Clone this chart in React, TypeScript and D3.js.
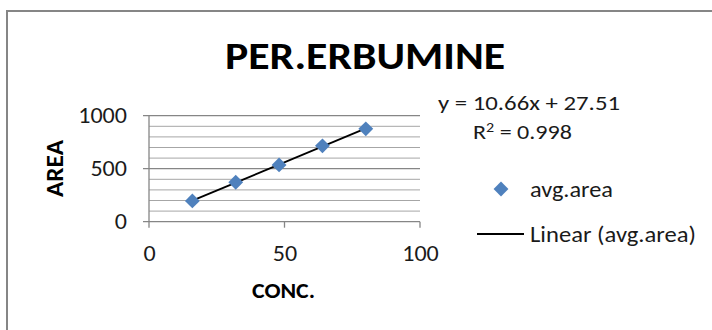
import React from "react";
import * as d3 from "d3";

// Calibration points: concentration vs. average peak area
const conc = [16, 32, 48, 64, 80];
const avgArea = [196, 372, 536, 716, 876];

// Linear trendline coefficients and fit quality
const slope = 10.66;
const intercept = 27.51;
const rSquared = 0.998;

const xTicks = [0, 50, 100];
const yMajorTicks = [0, 500, 1000];
const yMinorTicks = d3.range(0, 1001, 100);

const title = "PER.ERBUMINE";
const xTitle = "CONC.";
const yTitle = "AREA";
const seriesName = "avg.area";

const W = 712;
const H = 330;
const FONT = "Carlito, Calibri, Lato, 'Open Sans', sans-serif";
const BLUE = "#4f81bd";
const AXIS = "#868686";
const MINOR = "#a6a6a6";
const INK = "#1a1a1a";

// width of one tick-label digit in the slightly widened label style
const DIGIT_W = 12.2;

type TxtProps = {
  x: number;
  y: number;
  size: number;
  width: number;
  anchor?: "start" | "middle" | "end";
  bold?: boolean;
  fill?: string;
  transform?: string;
  children: React.ReactNode;
};

function Txt({ x, y, size, width, anchor = "start", bold, fill = INK, transform, children }: TxtProps) {
  return (
    <text
      x={x}
      y={y}
      fontSize={size}
      fontWeight={bold ? "bold" : "normal"}
      textAnchor={anchor}
      fill={fill}
      textLength={width}
      lengthAdjust="spacingAndGlyphs"
      transform={transform}
    >
      {children}
    </text>
  );
}

export default function App() {
  const x = d3.scaleLinear().domain([0, 100]).range([149, 420]);
  const y = d3.scaleLinear().domain([0, 1000]).range([221.7, 115.7]);

  const diamond = d3.symbol(d3.symbolSquare, 110)() as string;

  const fit = (v: number) => slope * v + intercept;
  const trend = d3.line<number>().x((d) => x(d)).y((d) => y(fit(d)));
  const trendXs = [d3.min(conc) as number, d3.max(conc) as number];

  return (
    <svg
      width={W}
      height={H}
      style={{ position: "absolute", left: 0, top: 0, background: "#fff" }}
      fontFamily={FONT}
    >
      <rect x={0} y={0} width={W} height={H} fill="#fff" />
      {/* chart frame */}
      <rect x={7} y={11} width={W + 20} height={H + 20} fill="none" stroke={AXIS} strokeWidth={2} />

      <Txt x={225} y={69} size={38} width={280} bold fill="#000">
        {title}
      </Txt>

      {/* gridlines */}
      {yMinorTicks
        .filter((t) => !yMajorTicks.includes(t))
        .map((t) => (
          <line key={"m" + t} x1={x(0)} x2={x(100)} y1={y(t)} y2={y(t)} stroke={MINOR} strokeWidth={1} />
        ))}
      {yMajorTicks.map((t) => (
        <line key={"M" + t} x1={x(0) - 6} x2={x(100)} y1={y(t)} y2={y(t)} stroke={AXIS} strokeWidth={1.3} />
      ))}

      {/* axes */}
      <line x1={x(0)} x2={x(0)} y1={y(1000)} y2={y(0)} stroke={AXIS} strokeWidth={1.3} />
      {xTicks.map((t) => (
        <line key={"xt" + t} x1={x(t)} x2={x(t)} y1={y(0)} y2={y(0) + 6} stroke={AXIS} strokeWidth={1.3} />
      ))}

      {/* tick labels */}
      {yMajorTicks.map((t) => (
        <Txt key={"yl" + t} x={127} y={y(t) + 7} size={22} width={String(t).length * DIGIT_W} anchor="end">
          {t}
        </Txt>
      ))}
      {xTicks.map((t) => (
        <Txt key={"xl" + t} x={x(t) + 0.5} y={261} size={22} width={String(t).length * DIGIT_W} anchor="middle">
          {t}
        </Txt>
      ))}

      {/* axis titles */}
      <Txt x={283.5} y={298} size={23} width={63} anchor="middle" bold fill="#000">
        {xTitle}
      </Txt>
      <Txt
        x={0}
        y={0}
        size={25}
        width={57}
        anchor="middle"
        bold
        fill="#000"
        transform="translate(63,168.5) rotate(-90)"
      >
        {yTitle}
      </Txt>

      {/* trendline */}
      <path d={trend(trendXs) as string} fill="none" stroke="#000" strokeWidth={1.8} />

      {/* data markers */}
      {conc.map((c, i) => (
        <path
          key={"p" + i}
          d={diamond}
          transform={`translate(${x(c)},${y(avgArea[i])}) rotate(45)`}
          fill={BLUE}
        />
      ))}

      {/* regression label */}
      <Txt x={438} y={110} size={20} width={182}>
        {`y = ${slope}x + ${intercept}`}
      </Txt>
      <text
        x={473}
        y={139}
        fontSize={21}
        fill={INK}
        textLength={99}
        lengthAdjust="spacingAndGlyphs"
      >
        R<tspan dy={-7} fontSize={14}>2</tspan>
        <tspan dy={7}>{` = ${rSquared}`}</tspan>
      </text>

      {/* legend */}
      <path d={diamond} transform="translate(501,189) rotate(45)" fill={BLUE} />
      <Txt x={530} y={197} size={22} width={83}>
        {seriesName}
      </Txt>
      <line x1={477} x2={524} y1={234} y2={234} stroke="#000" strokeWidth={1.8} />
      <Txt x={530} y={242} size={22} width={166}>
        {`Linear (${seriesName})`}
      </Txt>
    </svg>
  );
}
